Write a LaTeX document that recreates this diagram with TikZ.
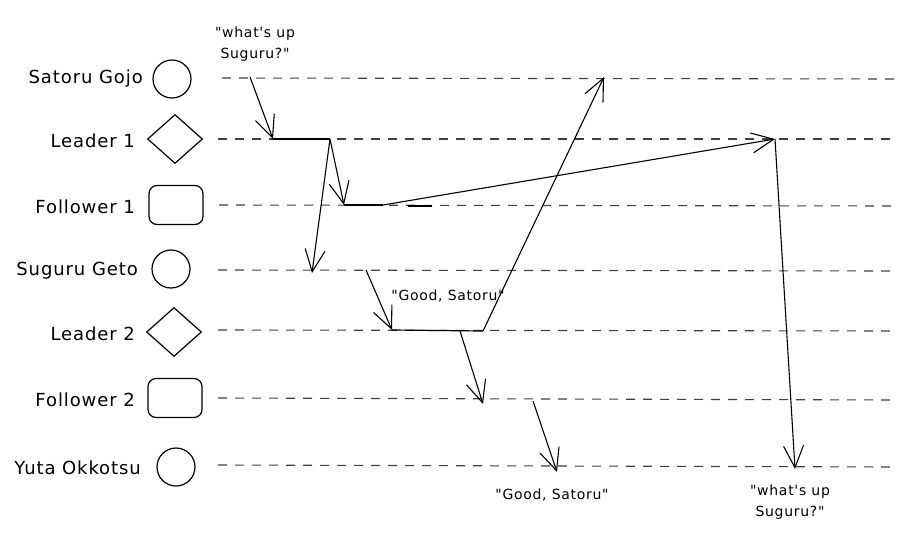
\documentclass[tikz,border=0pt]{standalone}
\usepackage{fontspec}
\setmainfont{DejaVu Sans}[Ligatures=TeXOff]
\newfontfamily\lblfont{DejaVu Sans}[Ligatures=TeXOff,LetterSpace=5]
\usetikzlibrary{arrows.meta,shapes.geometric}
\begin{document}
\begin{tikzpicture}[x=1pt,y=-1pt,
  lbl/.style={anchor=east,inner sep=0pt,font=\lblfont\fontsize{18}{20}\selectfont},
  msg/.style={inner sep=0pt,align=center,font=\lblfont\fontsize{14}{21}\selectfont},
  circ/.style={draw,line width=1.2pt,circle,minimum size=38pt,inner sep=0pt},
  dia/.style={draw,line width=1.2pt,diamond,minimum width=55pt,minimum height=49pt,inner sep=0pt},
  rbox/.style={draw,line width=1.2pt,rounded corners=8pt,minimum width=54pt,minimum height=39pt,inner sep=0pt},
  lane/.style={draw=black!75,line width=1.1pt,dash pattern=on 9pt off 8pt},
  seg/.style={line width=1.2pt},
  arr/.style={line width=1.1pt,-{Straight Barb[length=22pt,width=20pt,line width=1.1pt]}}]
\useasboundingbox (0,0) rectangle (909,535);
% participants
\node[circ] (gojo) at (172,79) {};
\node[dia]  (l1)   at (175,139) {};
\node[rbox] (f1)   at (176,205) {};
\node[circ] (geto) at (171,269) {};
\node[dia]  (l2)   at (174,332) {};
\node[rbox] (f2)   at (175,398) {};
\node[circ] (yuta) at (176,467) {};
\node[lbl] (tgojo) at (143,79) {Satoru Gojo};
\node[lbl] (tl1)   at (135,141) {Leader 1};
\node[lbl] (tf1)   at (135,207) {Follower 1};
\node[lbl] (tgeto) at (138,271) {Suguru Geto};
\node[lbl] (tl2)   at (135,334) {Leader 2};
\node[lbl] (tf2)   at (135,400) {Follower 2};
\node[lbl] (tyuta) at (141,468) {Yuta Okkotsu};
% lifelines
\coordinate (s1) at (222,78);  \coordinate (e1) at (895,79);
\coordinate (s2) at (218,139); \coordinate (e2) at (895,139);
\coordinate (s3) at (219,205); \coordinate (e3) at (895,206);
\coordinate (s4) at (218,270); \coordinate (e4) at (895,271);
\coordinate (s5) at (218,330); \coordinate (e5) at (895,331);
\coordinate (s6) at (218,398); \coordinate (e6) at (895,400);
\coordinate (s7) at (218,465); \coordinate (e7) at (895,467);
\foreach \i in {1,...,7} {\path[lane] (s\i) -- (e\i);}
% message points
\coordinate (p1) at (250,77);
\coordinate (p2) at (273,139);
\coordinate (p3) at (330,139);
\coordinate (p4) at (344,205);
\coordinate (p5) at (312,273);
\coordinate (p6) at (383,205);
\coordinate (p7) at (775,139);
\coordinate (p8) at (795,469);
\coordinate (p9) at (366,270);
\coordinate (p10) at (392,330);
\coordinate (p11) at (483,331);
\coordinate (p12) at (604,77);
\coordinate (p13) at (460,331);
\coordinate (p14) at (483,404);
\coordinate (p15) at (533,401);
\coordinate (p16) at (557,472);
\coordinate (q1) at (408,206);
\coordinate (q2) at (432,206);
% arrows
\draw[arr] (p1) -- (p2);
\draw[seg] (p2) -- (p3);
\draw[arr] (p3) -- (p4);
\draw[arr] (p3) -- (p5);
\draw[seg] (p4) -- (p6);
\draw[seg] (q1) -- (q2);
\draw[arr] (p6) -- (p7);
\draw[arr] (p7) -- (p8);
\draw[arr] (p9) -- (p10);
\draw[seg] (p10) -- (p11);
\draw[arr] (p11) -- (p12);
\draw[arr] (p13) -- (p14);
\draw[arr] (p15) -- (p16);
% message texts
\node[msg] (m1) at (255,44) {"what's up\\Suguru?"};
\node[msg] (m2) at (448,296) {"Good, Satoru"};
\node[msg] (m3) at (552,495) {"Good, Satoru"};
\node[msg] (m4) at (790,502) {"what's up\\Suguru?"};
\end{tikzpicture}
\end{document}
